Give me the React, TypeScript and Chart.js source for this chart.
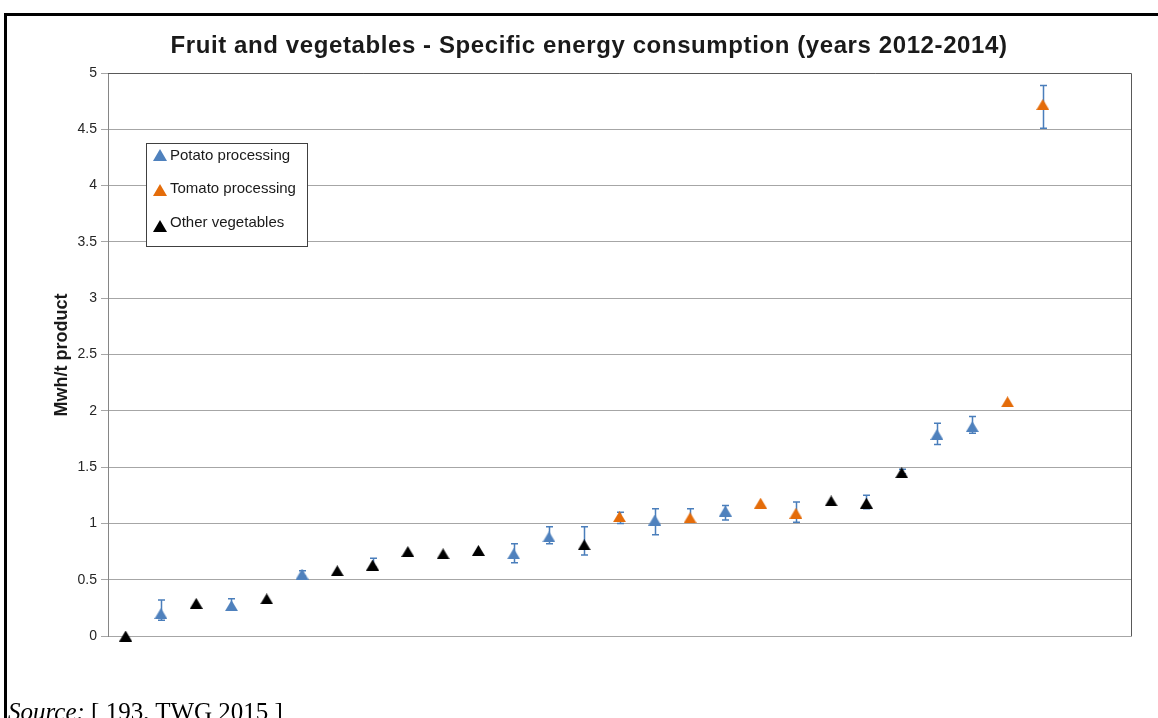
import React, { useEffect, useRef } from "react";
import { Chart, registerables } from "chart.js";

Chart.register(...registerables);

const TITLE = "Fruit and vegetables - Specific energy consumption (years 2012-2014)";
const Y_LABEL = "Mwh/t product";
const SERIES_NAMES = ["Potato processing", "Tomato processing", "Other vegetables"];
const SERIES_COLORS = ["#4F81BD", "#E46C0A", "#000000"];
const ERROR_COLOR = "#4A7EBB";

// installation position on the (unlabelled) x axis
const positions = [1, 2, 3, 4, 5, 6, 7, 8, 9, 10, 11, 12, 13, 14, 15, 16, 17, 18, 19, 20, 21, 22, 23, 24, 25, 26, 27];
// 0 = potato, 1 = tomato, 2 = other vegetables
const seriesOf = [2, 0, 2, 0, 2, 0, 2, 2, 2, 2, 2, 0, 0, 2, 1, 0, 1, 0, 1, 1, 2, 2, 2, 0, 0, 1, 1];
const values = [0.0, 0.2, 0.29, 0.27, 0.33, 0.55, 0.58, 0.63, 0.75, 0.73, 0.76, 0.73, 0.88, 0.81, 1.06, 1.03, 1.05, 1.11, 1.18, 1.09, 1.2, 1.18, 1.45, 1.79, 1.86, 2.08, 4.72];
const errLow: (number | null)[] = [null, 0.14, null, 0.23, null, 0.53, null, 0.61, null, null, null, 0.65, 0.82, 0.72, 1.0, 0.9, 1.02, 1.03, null, 1.01, null, 1.13, 1.44, 1.7, 1.8, null, 4.51];
const errHigh: (number | null)[] = [null, 0.32, null, 0.33, null, 0.58, null, 0.69, null, null, null, 0.82, 0.97, 0.97, 1.1, 1.13, 1.13, 1.16, null, 1.19, null, 1.25, 1.48, 1.89, 1.95, null, 4.89];

const X_MIN = 0.5;
const X_MAX = 29.5;
const Y_MIN = 0;
const Y_MAX = 5;
const Y_STEP = 0.5;

const FONT = "'Liberation Sans', Arial, sans-serif";

function makeTriangle(color: string, w: number, h: number): HTMLCanvasElement {
  const c = document.createElement("canvas");
  c.width = w;
  c.height = h;
  const g = c.getContext("2d")!;
  g.fillStyle = color;
  g.beginPath();
  g.moveTo(w / 2, 0);
  g.lineTo(w, h);
  g.lineTo(0, h);
  g.closePath();
  g.fill();
  return c;
}

const errorBarPlugin = {
  id: "errorBars",
  beforeDatasetsDraw(chart: any) {
    const { ctx, scales } = chart;
    const xs = scales.x;
    const ys = scales.y;
    ctx.save();
    ctx.strokeStyle = ERROR_COLOR;
    ctx.lineWidth = 1.5;
    for (let i = 0; i < positions.length; i++) {
      const lo = errLow[i];
      const hi = errHigh[i];
      if (lo == null || hi == null) continue;
      const x = Math.round(xs.getPixelForValue(positions[i])) + 0.5;
      const y1 = ys.getPixelForValue(lo);
      const y2 = ys.getPixelForValue(hi);
      ctx.beginPath();
      ctx.moveTo(x, y1);
      ctx.lineTo(x, y2);
      ctx.moveTo(x - 3.5, y1);
      ctx.lineTo(x + 3.5, y1);
      ctx.moveTo(x - 3.5, y2);
      ctx.lineTo(x + 3.5, y2);
      ctx.stroke();
    }
    ctx.restore();
  },
};

const decorPlugin = {
  id: "decor",
  beforeDatasetsDraw(chart: any) {
    const { ctx, chartArea } = chart;
    ctx.save();
    ctx.strokeStyle = "#595959";
    ctx.lineWidth = 1;
    ctx.beginPath();
    ctx.moveTo(chartArea.left, Math.round(chartArea.top) + 0.5);
    ctx.lineTo(Math.round(chartArea.right) + 0.5, Math.round(chartArea.top) + 0.5);
    ctx.lineTo(Math.round(chartArea.right) + 0.5, Math.round(chartArea.bottom) + 0.5);
    ctx.stroke();
    ctx.restore();
  },
  afterDraw(chart: any) {
    const { ctx } = chart;
    ctx.save();
    // title
    ctx.fillStyle = "#1a1a1a";
    ctx.font = `bold 24px ${FONT}`;
    (ctx as any).letterSpacing = "0.6px";
    ctx.textAlign = "center";
    ctx.textBaseline = "middle";
    ctx.fillText(TITLE, 589, 46);
    (ctx as any).letterSpacing = "0px";
    // y label
    ctx.save();
    ctx.translate(62, 355);
    ctx.rotate(-Math.PI / 2);
    ctx.font = `bold 18px ${FONT}`;
    ctx.fillText(Y_LABEL, 0, 0);
    ctx.restore();
    // legend
    ctx.fillStyle = "#ffffff";
    ctx.fillRect(146.5, 143.5, 161, 103);
    ctx.strokeStyle = "#404040";
    ctx.lineWidth = 1;
    ctx.strokeRect(146.5, 143.5, 161, 103);
    const rows = [156, 189, 223];
    const triBottom = [161, 196, 232];
    ctx.font = `15px ${FONT}`;
    ctx.textAlign = "left";
    ctx.textBaseline = "middle";
    for (let i = 0; i < SERIES_NAMES.length; i++) {
      const cx = 160;
      const b = triBottom[i];
      ctx.fillStyle = SERIES_COLORS[i];
      ctx.beginPath();
      ctx.moveTo(cx, b - 12);
      ctx.lineTo(cx + 7, b);
      ctx.lineTo(cx - 7, b);
      ctx.closePath();
      ctx.fill();
      ctx.fillStyle = "#1a1a1a";
      ctx.fillText(SERIES_NAMES[i], 170, rows[i]);
    }
    ctx.restore();
  },
};

export default function App() {
  const canvasRef = useRef<HTMLCanvasElement | null>(null);

  useEffect(() => {
    if (!canvasRef.current) return;
    const datasets = SERIES_NAMES.map((name, s) => ({
      label: name,
      data: positions
        .map((p, i) => ({ x: p, y: values[i], s: seriesOf[i] }))
        .filter((d) => d.s === s)
        .map((d) => ({ x: d.x, y: d.y })),
      pointStyle: makeTriangle(SERIES_COLORS[s], 13, 11) as any,
      pointRadius: 7,
      pointHoverRadius: 7,
      backgroundColor: SERIES_COLORS[s],
      borderColor: SERIES_COLORS[s],
      borderWidth: 0,
      showLine: false,
      clip: false as any,
    }));

    const chart = new Chart(canvasRef.current, {
      type: "scatter",
      data: { datasets },
      plugins: [errorBarPlugin, decorPlugin],
      options: {
        animation: false,
        responsive: false,
        devicePixelRatio: 1,
        layout: { padding: { top: 73, right: 27, bottom: 82, left: 0 } },
        plugins: {
          legend: { display: false },
          tooltip: { enabled: false },
          title: { display: false },
        },
        scales: {
          x: {
            type: "linear",
            min: X_MIN,
            max: X_MAX,
            display: false,
          },
          y: {
            type: "linear",
            min: Y_MIN,
            max: Y_MAX,
            afterFit(scale: any) {
              scale.width = 108;
            },
            ticks: {
              stepSize: Y_STEP,
              padding: 4,
              color: "#262626",
              font: { family: FONT, size: 14 },
              callback: (v: any) => String(v),
            },
            grid: {
              color: "#A6A6A6",
              lineWidth: 1,
              tickLength: 7,
              tickColor: "#A6A6A6",
              drawTicks: true,
            },
            border: { display: true, color: "#868686", width: 1 },
          },
        },
      },
    });
    return () => chart.destroy();
  }, []);

  return (
    <div style={{ position: "fixed", left: 0, top: 0, width: 1158, height: 718, overflow: "hidden", background: "#fff" }}>
      <div
        style={{
          position: "absolute",
          left: 4,
          top: 13,
          width: 1300,
          height: 900,
          border: "3px solid #000",
          boxSizing: "border-box",
        }}
      />
      <canvas
        ref={canvasRef}
        width={1158}
        height={718}
        style={{ position: "absolute", left: 0, top: 0, width: 1158, height: 718 }}
      />
      <div
        style={{
          position: "absolute",
          left: 8,
          top: 699,
          fontFamily: "'Liberation Serif', 'Times New Roman', serif",
          fontSize: 25,
          lineHeight: "25px",
          color: "#000",
          whiteSpace: "nowrap",
        }}
      >
        <i>Source:</i> [ 193, TWG 2015 ]
      </div>
    </div>
  );
}
